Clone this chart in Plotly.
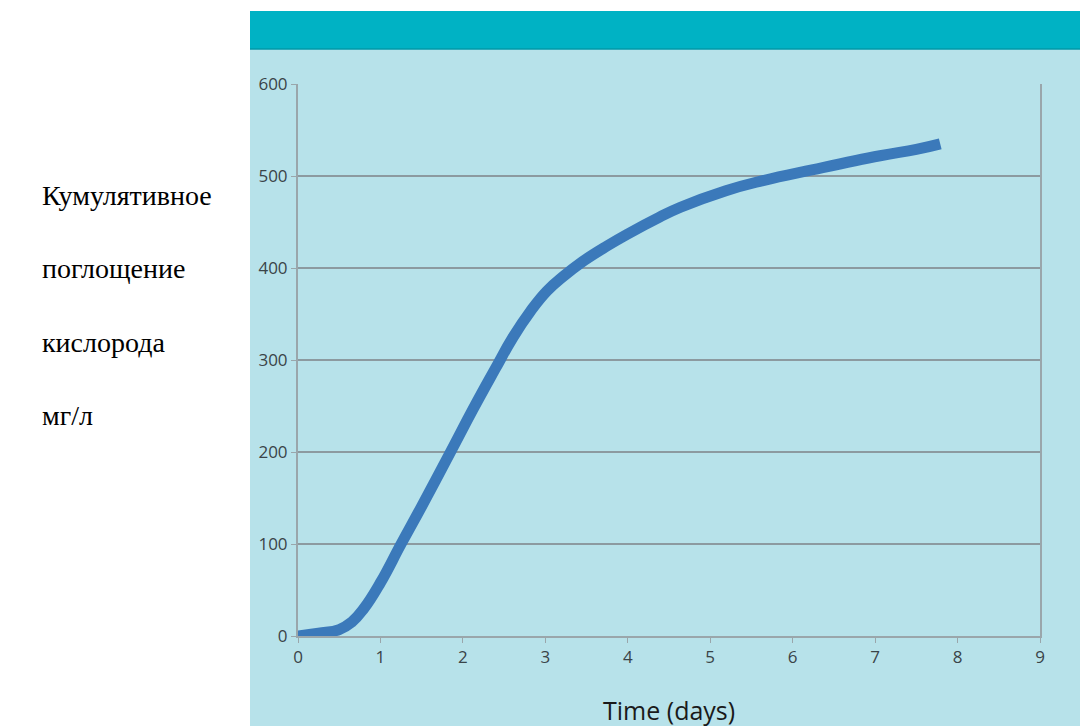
import plotly.graph_objects as go

# Data
days = [0, 0.25, 0.5, 0.65, 0.8, 1.0, 1.25, 1.5, 1.85, 2.12, 2.39, 2.61, 2.82,
        3.02, 3.22, 3.42, 3.75, 4.0, 4.38, 4.64, 5.19, 5.64, 6.25, 7.06, 7.5, 7.79]
oxygen = [0, 3, 7, 15, 30, 58, 100, 141, 200, 246, 290, 325, 353,
          375, 391, 405, 424, 437, 455, 466, 484, 495, 507, 522, 529, 535]
x_ticks = list(range(0, 10))
y_ticks = [0, 100, 200, 300, 400, 500, 600]
label_lines = ["Кумулятивное", "поглощение", "кислорода", "мг/л"]
x_title = "Time (days)"

W, H = 1080, 726
L, R, T, B = 298, 40, 84, 90
pw, ph = W - L - R, H - T - B

def px_x(p):
    return (p - L) / pw

def px_y(p):
    return (H - B - p) / ph

LIGHT = "#B7E2EA"
TEAL = "#00B2C4"
GRID = "#8C9AA0"
AXIS = "#9AA6AB"
BLUE = "#3B79BA"

fig = go.Figure()
fig.add_trace(go.Scatter(
    x=days, y=oxygen, mode="lines",
    line=dict(color=BLUE, width=11, shape="spline", smoothing=1.3),
    hoverinfo="skip", showlegend=False,
))

shapes = [
    dict(type="rect", xref="paper", yref="paper", layer="below",
         x0=px_x(250), x1=px_x(1080), y0=px_y(726), y1=px_y(49),
         fillcolor=LIGHT, line=dict(width=0)),
    dict(type="rect", xref="paper", yref="paper", layer="below",
         x0=px_x(250), x1=px_x(1080), y0=px_y(49), y1=px_y(11),
         fillcolor=TEAL, line=dict(width=0)),
    dict(type="line", xref="paper", yref="paper", layer="below",
         x0=px_x(250), x1=px_x(1080), y0=px_y(49), y1=px_y(49),
         line=dict(color="#0098A8", width=1.5)),
]

annotations = []
for i, txt in enumerate(label_lines):
    ypix = 195 + i * 73.5
    annotations.append(dict(
        text=txt, xref="paper", yref="paper", x=px_x(40), y=px_y(ypix),
        xanchor="left", yanchor="middle", showarrow=False,
        font=dict(family="Liberation Serif", size=28, color="#000000"),
    ))
annotations.append(dict(
    text=x_title, xref="paper", yref="paper", x=px_x(669), y=px_y(710),
    xanchor="center", yanchor="middle", showarrow=False,
    font=dict(family="Open Sans", size=25, color="#1a1a1a"),
))

fig.update_layout(
    width=W, height=H,
    margin=dict(l=L, r=R, t=T, b=B),
    paper_bgcolor="white",
    plot_bgcolor=LIGHT,
    shapes=shapes,
    annotations=annotations,
    showlegend=False,
    xaxis=dict(
        range=[0, 9], tickmode="array", tickvals=x_ticks,
        showgrid=False, zeroline=False,
        showline=True, linecolor=AXIS, linewidth=2,
        ticks="outside", ticklen=5, tickcolor=AXIS, tickwidth=1,
        tickfont=dict(family="Open Sans", size=17, color="#3a4448"),
    ),
    yaxis=dict(
        range=[0, 600], tickmode="array", tickvals=y_ticks,
        showgrid=True, gridcolor=GRID, gridwidth=2, zeroline=False,
        showline=True, linecolor=AXIS, linewidth=2, mirror=True,
        ticks="outside", ticklen=5, tickcolor=AXIS, tickwidth=1,
        tickfont=dict(family="Open Sans", size=17, color="#3a4448"),
    ),
)

fig.write_html("out.html", config={"displayModeBar": False},
               post_script="document.body.style.margin='0';")
